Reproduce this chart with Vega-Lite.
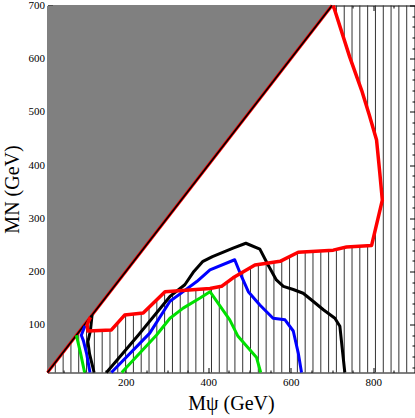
{
  "$schema": "https://vega.github.io/schema/vega-lite/v6.json",
  "width": 367,
  "height": 367,
  "autosize": {"type": "none"},
  "padding": {"left": 47.5, "top": 5.5, "right": 0.5, "bottom": 45.5},
  "background": "white",
  "config": {
    "view": {"stroke": "black", "strokeWidth": 1},
    "axis": {
      "labelFont": "Liberation Serif", "labelFontSize": 11, "labelColor": "black",
      "titleFont": "Liberation Serif", "titleFontSize": 20, "titleFontWeight": "normal", "titleColor": "black",
      "tickColor": "black", "domain": false, "grid": false
    }
  },
  "datasets": {
    "shade": [{"x": 10, "lo": 10, "hi": 700}, {"x": 700, "lo": 700, "hi": 700}],
    "diag": [{"x": 10, "y": 10}, {"x": 700, "y": 700}],
    "hatch": [
      {"x": 28.9, "y": 10, "y2": 28.9}, {"x": 47.9, "y": 10, "y2": 47.9}, {"x": 66.8, "y": 10, "y2": 66.8},
      {"x": 85.7, "y": 10, "y2": 85.7}, {"x": 104.7, "y": 10, "y2": 104.7}, {"x": 123.6, "y": 10, "y2": 89},
      {"x": 142.6, "y": 10, "y2": 89}, {"x": 161.5, "y": 10, "y2": 90}, {"x": 180.4, "y": 10, "y2": 103.5},
      {"x": 199.4, "y": 10, "y2": 118}, {"x": 218.3, "y": 10, "y2": 120}, {"x": 237.2, "y": 10, "y2": 121.6},
      {"x": 256.2, "y": 10, "y2": 132.7}, {"x": 275.1, "y": 10, "y2": 147}, {"x": 294.0, "y": 10, "y2": 161},
      {"x": 313.0, "y": 10, "y2": 163}, {"x": 331.9, "y": 10, "y2": 164}, {"x": 350.9, "y": 10, "y2": 165},
      {"x": 369.8, "y": 10, "y2": 166}, {"x": 388.7, "y": 10, "y2": 167}, {"x": 407.7, "y": 10, "y2": 168.5},
      {"x": 426.6, "y": 10, "y2": 171}, {"x": 445.5, "y": 10, "y2": 180}, {"x": 464.5, "y": 10, "y2": 190},
      {"x": 483.4, "y": 10, "y2": 198.6}, {"x": 502.3, "y": 10, "y2": 207}, {"x": 521.3, "y": 10, "y2": 213},
      {"x": 540.2, "y": 10, "y2": 215.4}, {"x": 559.1, "y": 10, "y2": 217.3}, {"x": 578.1, "y": 10, "y2": 220.6},
      {"x": 597.0, "y": 10, "y2": 228}, {"x": 616.0, "y": 10, "y2": 235}, {"x": 634.9, "y": 10, "y2": 236.8},
      {"x": 653.8, "y": 10, "y2": 237.7}, {"x": 672.8, "y": 10, "y2": 238.6}, {"x": 691.7, "y": 10, "y2": 239.5},
      {"x": 710.6, "y": 10, "y2": 241.4}, {"x": 710.6, "y": 681.6, "y2": 700},
      {"x": 729.6, "y": 10, "y2": 245}, {"x": 729.6, "y": 635.5, "y2": 700},
      {"x": 748.5, "y": 10, "y2": 246.7}, {"x": 748.5, "y": 591, "y2": 700},
      {"x": 767.4, "y": 10, "y2": 247.6}, {"x": 767.4, "y": 550, "y2": 700},
      {"x": 786.4, "y": 10, "y2": 248.5}, {"x": 786.4, "y": 504, "y2": 700},
      {"x": 805.3, "y": 10, "y2": 279.4}, {"x": 805.3, "y": 454, "y2": 700},
      {"x": 824.3, "y": 10, "y2": 700}, {"x": 843.2, "y": 10, "y2": 700},
      {"x": 862.1, "y": 10, "y2": 700}, {"x": 881.1, "y": 10, "y2": 700}
    ],
    "green": [
      {"part": "a", "o": 1, "x": 80, "y": 80}, {"part": "a", "o": 2, "x": 90, "y": 47}, {"part": "a", "o": 3, "x": 100, "y": 10},
      {"part": "b", "o": 1, "x": 190, "y": 10}, {"part": "b", "o": 2, "x": 274, "y": 80}, {"part": "b", "o": 3, "x": 307, "y": 112},
      {"part": "b", "o": 4, "x": 339, "y": 131}, {"part": "b", "o": 5, "x": 380, "y": 150}, {"part": "b", "o": 6, "x": 404, "y": 162},
      {"part": "b", "o": 7, "x": 452, "y": 109}, {"part": "b", "o": 8, "x": 472, "y": 78}, {"part": "b", "o": 9, "x": 517, "y": 38},
      {"part": "b", "o": 10, "x": 527, "y": 10}
    ],
    "blue": [
      {"part": "a", "o": 1, "x": 101, "y": 98}, {"part": "a", "o": 2, "x": 92, "y": 80}, {"part": "a", "o": 3, "x": 97, "y": 70},
      {"part": "a", "o": 4, "x": 105, "y": 45}, {"part": "a", "o": 5, "x": 113, "y": 10},
      {"part": "b", "o": 1, "x": 165, "y": 10}, {"part": "b", "o": 2, "x": 258, "y": 84}, {"part": "b", "o": 3, "x": 307, "y": 144},
      {"part": "b", "o": 4, "x": 339, "y": 162}, {"part": "b", "o": 5, "x": 372, "y": 181}, {"part": "b", "o": 6, "x": 404, "y": 203},
      {"part": "b", "o": 7, "x": 464, "y": 222}, {"part": "b", "o": 8, "x": 477, "y": 197}, {"part": "b", "o": 9, "x": 497, "y": 162},
      {"part": "b", "o": 10, "x": 525, "y": 137}, {"part": "b", "o": 11, "x": 557, "y": 112}, {"part": "b", "o": 12, "x": 586, "y": 109},
      {"part": "b", "o": 13, "x": 606, "y": 88}, {"part": "b", "o": 14, "x": 618, "y": 47}, {"part": "b", "o": 15, "x": 626, "y": 10}
    ],
    "black": [
      {"part": "a", "o": 1, "x": 118, "y": 118}, {"part": "a", "o": 2, "x": 114, "y": 88}, {"part": "a", "o": 3, "x": 108, "y": 68},
      {"part": "a", "o": 4, "x": 112, "y": 45}, {"part": "a", "o": 5, "x": 123, "y": 10},
      {"part": "b", "o": 1, "x": 153, "y": 10}, {"part": "b", "o": 2, "x": 230, "y": 80}, {"part": "b", "o": 3, "x": 307, "y": 153},
      {"part": "b", "o": 4, "x": 343, "y": 175}, {"part": "b", "o": 5, "x": 365, "y": 200}, {"part": "b", "o": 6, "x": 387, "y": 219},
      {"part": "b", "o": 7, "x": 410, "y": 228}, {"part": "b", "o": 8, "x": 460, "y": 244}, {"part": "b", "o": 9, "x": 491, "y": 253},
      {"part": "b", "o": 10, "x": 525, "y": 242}, {"part": "b", "o": 11, "x": 545, "y": 212}, {"part": "b", "o": 12, "x": 565, "y": 184},
      {"part": "b", "o": 13, "x": 582, "y": 172}, {"part": "b", "o": 14, "x": 606, "y": 166}, {"part": "b", "o": 15, "x": 630, "y": 159},
      {"part": "b", "o": 16, "x": 654, "y": 144}, {"part": "b", "o": 17, "x": 679, "y": 128}, {"part": "b", "o": 18, "x": 707, "y": 112},
      {"part": "b", "o": 19, "x": 719, "y": 97}, {"part": "b", "o": 20, "x": 731, "y": 10}
    ],
    "red": [
      {"o": 1, "x": 114, "y": 114}, {"o": 2, "x": 106, "y": 100}, {"o": 3, "x": 108, "y": 88}, {"o": 4, "x": 165, "y": 90},
      {"o": 5, "x": 197, "y": 118}, {"o": 6, "x": 242, "y": 122}, {"o": 7, "x": 295, "y": 162}, {"o": 8, "x": 404, "y": 168},
      {"o": 9, "x": 432, "y": 172}, {"o": 10, "x": 460, "y": 188}, {"o": 11, "x": 513, "y": 212}, {"o": 12, "x": 574, "y": 219},
      {"o": 13, "x": 618, "y": 236}, {"o": 14, "x": 703, "y": 240}, {"o": 15, "x": 735, "y": 246}, {"o": 16, "x": 796, "y": 249},
      {"o": 17, "x": 822, "y": 334}, {"o": 18, "x": 816, "y": 384}, {"o": 19, "x": 808, "y": 447}, {"o": 20, "x": 790, "y": 495},
      {"o": 21, "x": 772, "y": 540}, {"o": 22, "x": 743, "y": 603}, {"o": 23, "x": 703, "y": 700}
    ]
  },
  "resolve": {"axis": {"x": "independent", "y": "independent"}},
  "layer": [
    {
      "data": {"name": "shade"},
      "mark": {"type": "area", "color": "#808080", "clip": true},
      "encoding": {
        "x": {"field": "x", "type": "quantitative", "scale": {"domain": [10, 900], "nice": false, "zero": false},
              "axis": {"orient": "bottom", "values": [200, 400, 600, 800], "tickSize": -5, "labelPadding": 9, "title": "Mψ (GeV)", "titlePadding": 6}},
        "y": {"field": "lo", "type": "quantitative", "scale": {"domain": [10, 700], "nice": false, "zero": false},
              "axis": {"orient": "left", "values": [100, 200, 300, 400, 500, 600, 700], "tickSize": -5, "labelPadding": 8, "title": "MN (GeV)", "titlePadding": 6}},
        "y2": {"field": "hi"}
      }
    },
    {
      "data": {"name": "hatch"},
      "mark": {"type": "rule", "color": "#333333", "strokeWidth": 1},
      "encoding": {
        "x": {"field": "x", "type": "quantitative", "axis": {"orient": "top", "values": [200, 400, 600, 800], "tickSize": -5, "labels": false, "title": null}},
        "y": {"field": "y", "type": "quantitative", "axis": {"orient": "right", "values": [100, 200, 300, 400, 500, 600, 700], "tickSize": -5, "labels": false, "title": null}},
        "y2": {"field": "y2"}
      }
    },
    {
      "data": {"name": "diag"},
      "mark": {"type": "line", "color": "#ff0000", "strokeWidth": 3},
      "encoding": {
        "x": {"field": "x", "type": "quantitative", "axis": {"orient": "bottom", "values": [50, 100, 150, 250, 300, 350, 450, 500, 550, 650, 700, 750, 850], "tickSize": -2.5, "labels": false, "title": null}},
        "y": {"field": "y", "type": "quantitative", "axis": {"orient": "left", "values": [20, 40, 60, 80, 120, 140, 160, 180, 220, 240, 260, 280, 320, 340, 360, 380, 420, 440, 460, 480, 520, 540, 560, 580, 620, 640, 660, 680], "tickSize": -2.5, "labels": false, "title": null}}
      }
    },
    {
      "data": {"name": "diag"},
      "mark": {"type": "line", "color": "black", "strokeWidth": 1.6},
      "encoding": {
        "x": {"field": "x", "type": "quantitative", "axis": {"orient": "top", "values": [50, 100, 150, 250, 300, 350, 450, 500, 550, 650, 700, 750, 850], "tickSize": -2.5, "labels": false, "title": null}},
        "y": {"field": "y", "type": "quantitative", "axis": {"orient": "right", "values": [20, 40, 60, 80, 120, 140, 160, 180, 220, 240, 260, 280, 320, 340, 360, 380, 420, 440, 460, 480, 520, 540, 560, 580, 620, 640, 660, 680], "tickSize": -2.5, "labels": false, "title": null}}
      }
    },
    {
      "data": {"name": "green"},
      "mark": {"type": "line", "color": "#00e000", "strokeWidth": 3, "strokeJoin": "round"},
      "encoding": {
        "x": {"field": "x", "type": "quantitative", "axis": null},
        "y": {"field": "y", "type": "quantitative", "axis": null},
        "detail": {"field": "part"},
        "order": {"field": "o"}
      }
    },
    {
      "data": {"name": "blue"},
      "mark": {"type": "line", "color": "#0000ff", "strokeWidth": 3, "strokeJoin": "round"},
      "encoding": {
        "x": {"field": "x", "type": "quantitative", "axis": null},
        "y": {"field": "y", "type": "quantitative", "axis": null},
        "detail": {"field": "part"},
        "order": {"field": "o"}
      }
    },
    {
      "data": {"name": "black"},
      "mark": {"type": "line", "color": "black", "strokeWidth": 3, "strokeJoin": "round"},
      "encoding": {
        "x": {"field": "x", "type": "quantitative", "axis": null},
        "y": {"field": "y", "type": "quantitative", "axis": null},
        "detail": {"field": "part"},
        "order": {"field": "o"}
      }
    },
    {
      "data": {"name": "red"},
      "mark": {"type": "line", "color": "#ff0000", "strokeWidth": 3.5, "strokeJoin": "round"},
      "encoding": {
        "x": {"field": "x", "type": "quantitative", "axis": null},
        "y": {"field": "y", "type": "quantitative", "axis": null},
        "order": {"field": "o"}
      }
    }
  ]
}
